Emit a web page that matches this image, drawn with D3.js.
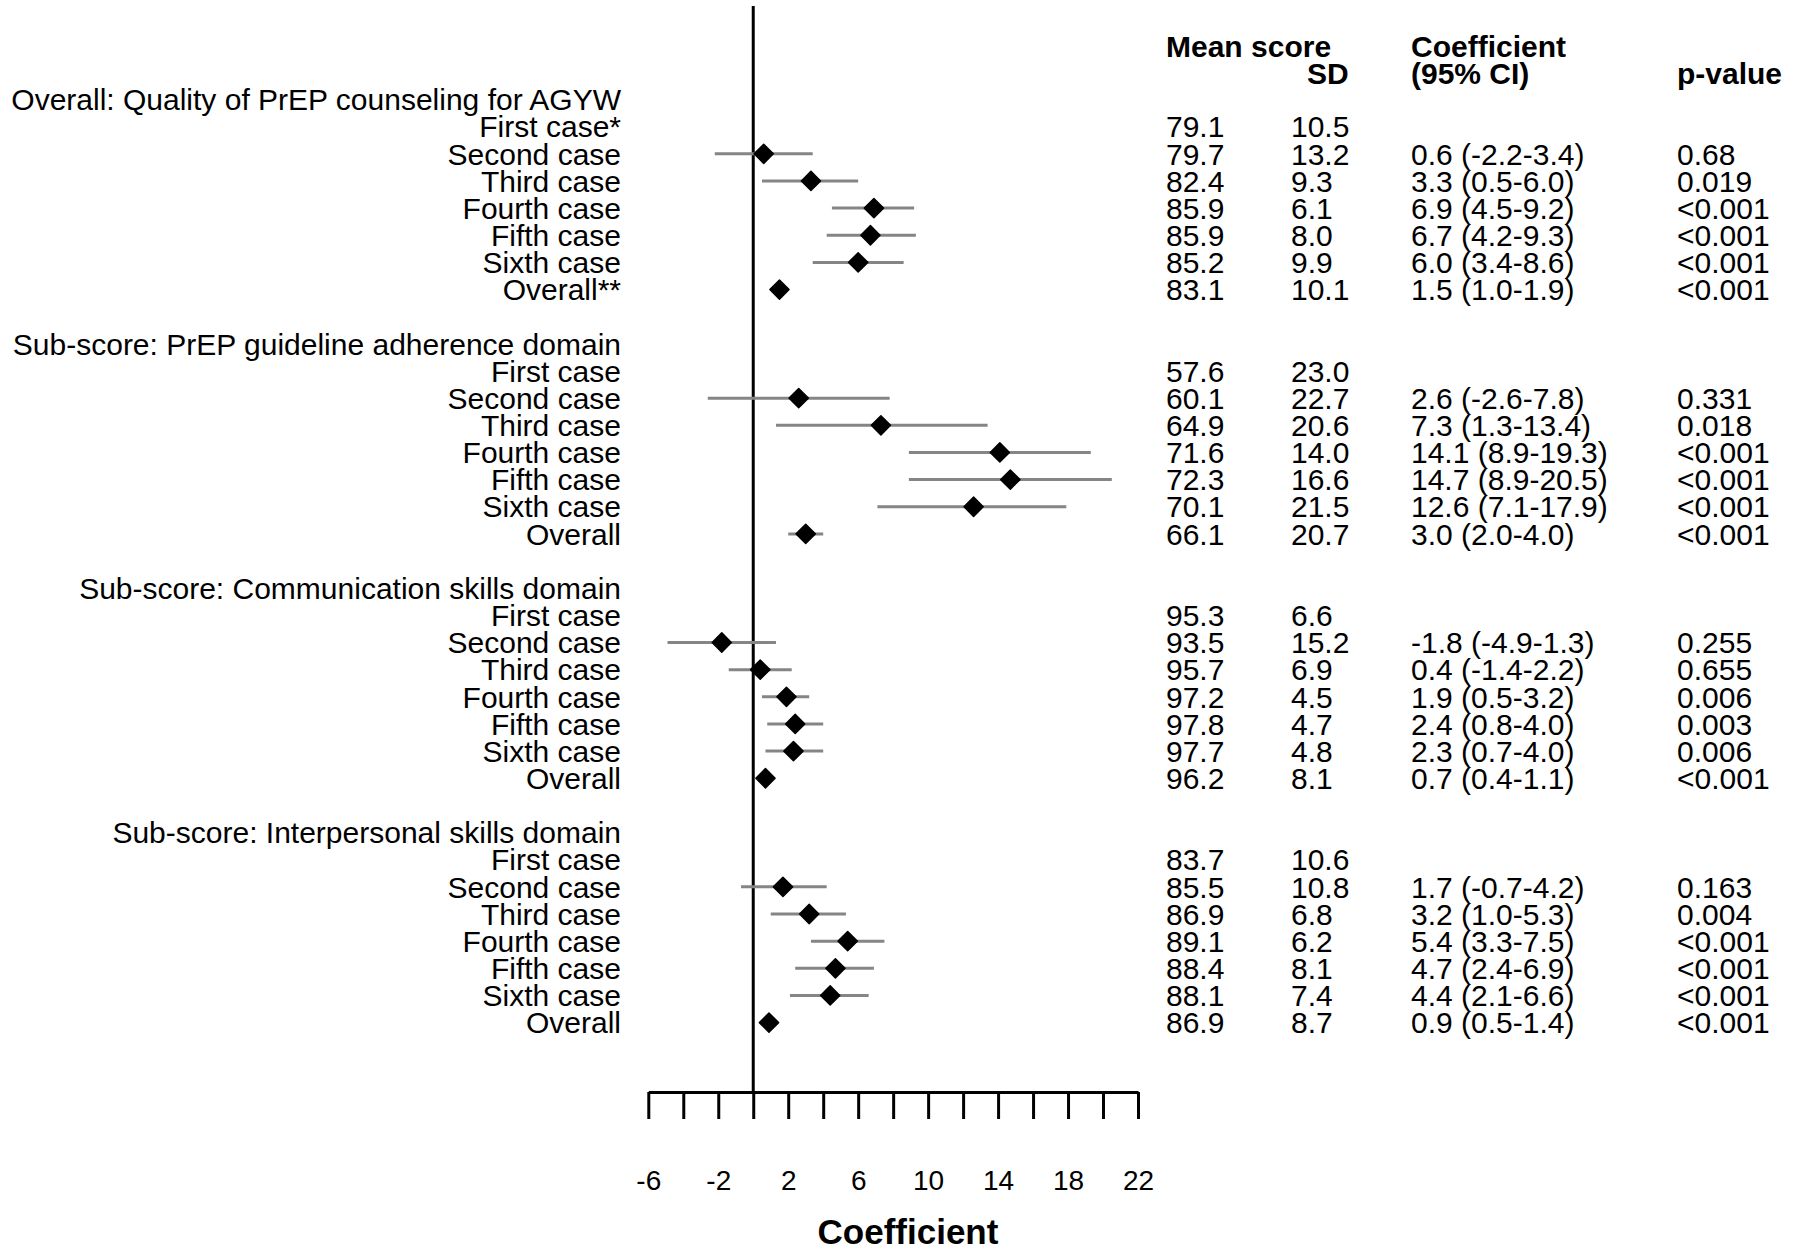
<!DOCTYPE html>
<html>
<head>
<meta charset="utf-8">
<script src="https://cdn.jsdelivr.net/npm/d3@7"></script>
<style>
  html, body { margin: 0; padding: 0; background: #fff; }
  svg text { font-family: "Liberation Sans", Arial, sans-serif; fill: #000; }
</style>
</head>
<body>
<svg id="chart" width="1800" height="1253"></svg>
<script>
// ---------- DATA ----------
const sectionTitles = [
  "Overall: Quality of PrEP counseling for AGYW",
  "Sub-score: PrEP guideline adherence domain",
  "Sub-score: Communication skills domain",
  "Sub-score: Interpersonal skills domain"
];
const rowLabels = [
  ["First case*", "Second case", "Third case", "Fourth case", "Fifth case", "Sixth case", "Overall**"],
  ["First case", "Second case", "Third case", "Fourth case", "Fifth case", "Sixth case", "Overall"],
  ["First case", "Second case", "Third case", "Fourth case", "Fifth case", "Sixth case", "Overall"],
  ["First case", "Second case", "Third case", "Fourth case", "Fifth case", "Sixth case", "Overall"]
];
const meanScore = [
  [79.1, 79.7, 82.4, 85.9, 85.9, 85.2, 83.1],
  [57.6, 60.1, 64.9, 71.6, 72.3, 70.1, 66.1],
  [95.3, 93.5, 95.7, 97.2, 97.8, 97.7, 96.2],
  [83.7, 85.5, 86.9, 89.1, 88.4, 88.1, 86.9]
];
const sdValues = [
  [10.5, 13.2, 9.3, 6.1, 8.0, 9.9, 10.1],
  [23.0, 22.7, 20.6, 14.0, 16.6, 21.5, 20.7],
  [6.6, 15.2, 6.9, 4.5, 4.7, 4.8, 8.1],
  [10.6, 10.8, 6.8, 6.2, 8.1, 7.4, 8.7]
];
const coefficient = [
  [null, 0.6, 3.3, 6.9, 6.7, 6.0, 1.5],
  [null, 2.6, 7.3, 14.1, 14.7, 12.6, 3.0],
  [null, -1.8, 0.4, 1.9, 2.4, 2.3, 0.7],
  [null, 1.7, 3.2, 5.4, 4.7, 4.4, 0.9]
];
const ciLower = [
  [null, -2.2, 0.5, 4.5, 4.2, 3.4, 1.0],
  [null, -2.6, 1.3, 8.9, 8.9, 7.1, 2.0],
  [null, -4.9, -1.4, 0.5, 0.8, 0.7, 0.4],
  [null, -0.7, 1.0, 3.3, 2.4, 2.1, 0.5]
];
const ciUpper = [
  [null, 3.4, 6.0, 9.2, 9.3, 8.6, 1.9],
  [null, 7.8, 13.4, 19.3, 20.5, 17.9, 4.0],
  [null, 1.3, 2.2, 3.2, 4.0, 4.0, 1.1],
  [null, 4.2, 5.3, 7.5, 6.9, 6.6, 1.4]
];
const pValue = [
  ["", "0.68", "0.019", "<0.001", "<0.001", "<0.001", "<0.001"],
  ["", "0.331", "0.018", "<0.001", "<0.001", "<0.001", "<0.001"],
  ["", "0.255", "0.655", "0.006", "0.003", "0.006", "<0.001"],
  ["", "0.163", "0.004", "<0.001", "<0.001", "<0.001", "<0.001"]
];
const xTicks = [-6, -4, -2, 0, 2, 4, 6, 8, 10, 12, 14, 16, 18, 20, 22];
const xTickLabels = ["-6", "", "-2", "", "2", "", "6", "", "10", "", "14", "", "18", "", "22"];
const columnHeaders = [
  { text: "Mean score", col: "mean", line: 0 },
  { text: "SD", col: "sdHead", line: 1 },
  { text: "Coefficient", col: "coef", line: 0 },
  { text: "(95% CI)", col: "coef", line: 1 },
  { text: "p-value", col: "p", line: 1 }
];
const xAxisTitle = "Coefficient";

// ---------- BUILD ROWS ----------
const rows = [];
sectionTitles.forEach((title, s) => {
  rows.push({ idx: s * 9, type: "header", label: title });
  rowLabels[s].forEach((lab, i) => {
    rows.push({
      idx: s * 9 + 1 + i, type: "item", label: lab,
      mean: meanScore[s][i], sd: sdValues[s][i],
      coef: coefficient[s][i], lo: ciLower[s][i], hi: ciUpper[s][i],
      p: pValue[s][i]
    });
  });
});

// ---------- LAYOUT ----------
const svg = d3.select("#chart");
const x = d3.scaleLinear().domain([-6, 22]).range([648.3, 1138]);
const y = d3.scaleLinear().domain([0, 34]).range([99.5, 99.5 + 34 * 27.15]);
const colX = { mean: 1166, sd: 1291, sdHead: 1307, coef: 1411, p: 1677 };
const labelRight = 621;
const axisY = 1092;
const fontSize = 30;
const capOff = 0.358 * fontSize; // baseline offset to center the cap height
const f1 = v => v.toFixed(1);

// vertical zero line
svg.append("line")
  .attr("x1", x(0)).attr("x2", x(0))
  .attr("y1", 6).attr("y2", axisY)
  .attr("stroke", "#000").attr("stroke-width", 3);

// left labels
svg.append("g").selectAll("text").data(rows).join("text")
  .attr("x", labelRight)
  .attr("y", d => y(d.idx) + capOff)
  .attr("text-anchor", "end")
  .style("font-size", fontSize + "px")
  .text(d => d.label);

const items = rows.filter(d => d.type === "item");
const withCoef = items.filter(d => d.coef !== null);

// CIs
svg.append("g").selectAll("line").data(withCoef).join("line")
  .attr("x1", d => x(d.lo)).attr("x2", d => x(d.hi))
  .attr("y1", d => y(d.idx)).attr("y2", d => y(d.idx))
  .attr("stroke", "#858585").attr("stroke-width", 3);

// markers
const diamond = d3.symbol(d3.symbolDiamond2, 235);
svg.append("g").selectAll("path").data(withCoef).join("path")
  .attr("d", diamond)
  .attr("transform", d => `translate(${x(d.coef)},${y(d.idx)})`)
  .attr("fill", "#000").attr("stroke", "#000")
  .attr("stroke-width", 1.5).attr("stroke-linejoin", "round");

// table columns
const tg = svg.append("g").style("font-size", fontSize + "px");
tg.selectAll("text.mean").data(items).join("text").attr("class", "mean")
  .attr("x", colX.mean).attr("y", d => y(d.idx) + capOff).text(d => f1(d.mean));
tg.selectAll("text.sd").data(items).join("text").attr("class", "sd")
  .attr("x", colX.sd).attr("y", d => y(d.idx) + capOff).text(d => f1(d.sd));
tg.selectAll("text.coef").data(withCoef).join("text").attr("class", "coef")
  .attr("x", colX.coef).attr("y", d => y(d.idx) + capOff)
  .text(d => `${f1(d.coef)} (${f1(d.lo)}-${f1(d.hi)})`);
tg.selectAll("text.p").data(withCoef).join("text").attr("class", "p")
  .attr("x", colX.p).attr("y", d => y(d.idx) + capOff).text(d => d.p);

// column headers
const headerY = [46.7, 73.3];
svg.append("g").selectAll("text").data(columnHeaders).join("text")
  .attr("x", d => colX[d.col])
  .attr("y", d => headerY[d.line] + capOff)
  .style("font-size", fontSize + "px")
  .style("font-weight", "bold")
  .text(d => d.text);

// x axis
const axis = d3.axisBottom(x)
  .tickValues(xTicks)
  .tickSize(27)
  .tickSizeOuter(0)
  .tickPadding(51)
  .tickFormat((v, i) => xTickLabels[i]);
const ag = svg.append("g").attr("transform", `translate(0,${axisY})`).call(axis);
ag.select(".domain").attr("stroke", "#000").attr("stroke-width", 3);
ag.selectAll(".tick line").attr("stroke", "#000").attr("stroke-width", 3);
ag.selectAll(".tick text")
  .style("font-family", '"Liberation Sans", Arial, sans-serif')
  .style("font-size", "28px").attr("fill", "#000");

// axis title
svg.append("text")
  .attr("x", 908).attr("y", 1244)
  .attr("text-anchor", "middle")
  .style("font-size", "35px").style("font-weight", "bold")
  .text(xAxisTitle);
</script>
</body>
</html>
